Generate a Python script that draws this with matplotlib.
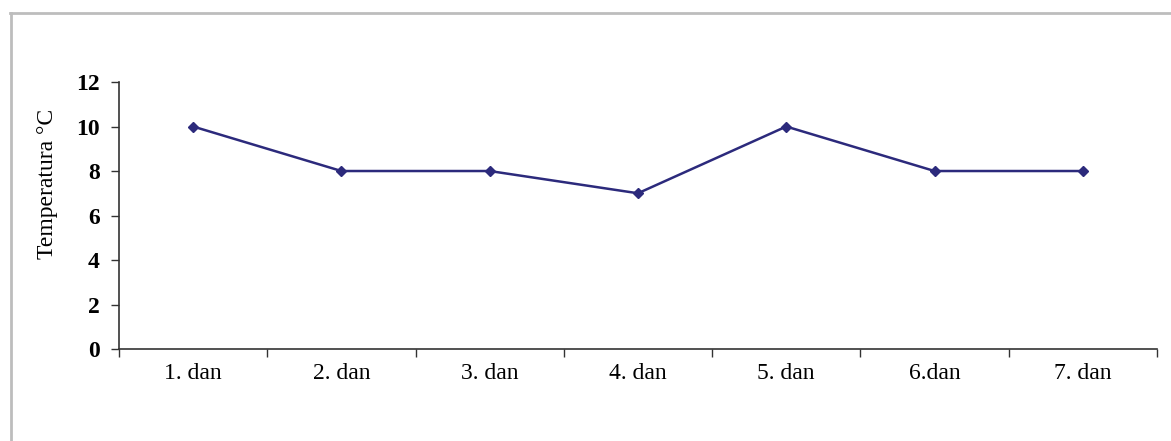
import matplotlib
matplotlib.use("Agg")
import matplotlib.pyplot as plt
from matplotlib.lines import Line2D

# daily temperatures over one week
days = ["1. dan", "2. dan", "3. dan", "4. dan", "5. dan", "6.dan", "7. dan"]
temps = [10, 8, 8, 7, 10, 8, 8]
yticks = [0, 2, 4, 6, 8, 10, 12]

plt.rcParams["font.family"] = ["Liberation Serif", "DejaVu Serif"]

fig = plt.figure(figsize=(11.71, 4.41), dpi=100)
ax = fig.add_axes([0.1016, 0.2086, 0.8864, 0.6054])

xs = [i + 0.5 for i in range(len(days))]
ax.plot(xs, temps, color="#2c2a7c", lw=1.8, marker="D", ms=5,
        markerfacecolor="#2c2a7c", markeredgecolor="#2c2a7c")

ax.set_xlim(0, len(days))
ax.set_ylim(0, 12)

# category boundaries get the tick marks, names sit between them
ax.set_xticks(range(len(days) + 1))
ax.set_xticklabels([])
ax.set_xticks(xs, minor=True)
ax.set_xticklabels(days, minor=True, fontsize=17)
ax.tick_params(axis="x", which="major", direction="out", length=6, width=1, color="#333333")
ax.tick_params(axis="x", which="minor", length=0, pad=10)

ax.set_yticks(yticks)
ax.set_yticklabels([str(v) for v in yticks], fontsize=17, fontweight="bold")
ax.tick_params(axis="y", direction="out", length=6, width=1, color="#333333", pad=8)

ax.set_ylabel("Temperatura °C", fontsize=17)
ax.yaxis.set_label_coords(-0.059, 0.62)

for side in ("top", "right"):
    ax.spines[side].set_visible(False)
for side in ("left", "bottom"):
    ax.spines[side].set_color("#333333")
    ax.spines[side].set_linewidth(1.2)

# outer frame edges
fig.add_artist(Line2D([10 / 1171, 1.0], [1 - 13 / 441, 1 - 13 / 441],
                      transform=fig.transFigure, color="#bdbdbd", lw=2))
fig.add_artist(Line2D([11 / 1171, 11 / 1171], [0.0, 1 - 13 / 441],
                      transform=fig.transFigure, color="#bdbdbd", lw=2))

fig.savefig("out.png", dpi=100)
